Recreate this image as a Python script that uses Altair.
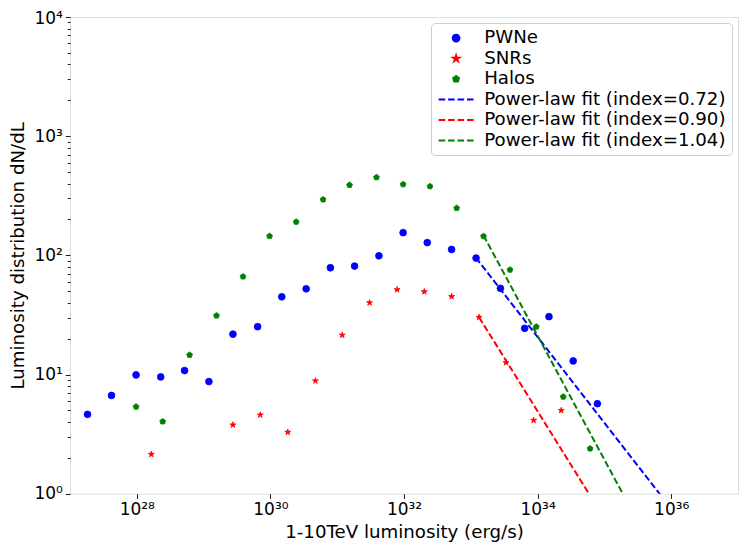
import altair as alt
import pandas as pd
import numpy as np

# ---------------- data ----------------
series_names = ["PWNe", "SNRs", "Halos",
                "Power-law fit (index=0.72)",
                "Power-law fit (index=0.90)",
                "Power-law fit (index=1.04)"]
series_colors = ["#0000ff", "#ff0000", "#008000", "#0000ff", "#ff0000", "#008000"]

pwne_L = [1.83e27, 4.18e27, 9.75e27, 2.28e28, 5.19e28, 1.20e29, 2.75e29, 6.44e29,
          1.48e30, 3.43e30, 7.91e30, 1.82e31, 4.21e31, 9.70e31, 2.23e32, 5.16e32,
          1.20e33, 2.78e33, 6.40e33, 1.48e34, 3.41e34, 7.85e34]
pwne_N = [4.63, 6.67, 9.93, 9.55, 10.8, 8.73, 21.8, 25.2, 44.9, 52.4, 78.7, 81.3,
          99.1, 155, 128, 112, 94.9, 52.9, 24.4, 30.6, 13.0, 5.69]

snr_L = [1.65e28, 2.75e29, 7.06e29, 1.82e30, 4.72e30, 1.19e31, 3.05e31, 7.89e31,
         2.01e32, 5.16e32, 1.33e33, 3.37e33, 8.73e33, 2.26e34]
snr_N = [2.14, 3.78, 4.58, 3.28, 8.85, 21.4, 40.0, 51.6, 49.6, 45.1, 30.2, 12.6,
         4.13, 5.00]

halo_L = [9.75e27, 2.44e28, 6.17e28, 1.56e29, 3.89e29, 9.72e29, 2.43e30, 6.15e30,
          1.53e31, 3.87e31, 9.70e31, 2.45e32, 6.15e32, 1.55e33, 3.86e33, 9.57e33,
          2.42e34, 6.11e34]
halo_N = [5.37, 4.03, 14.6, 31.2, 66.3, 145, 191, 294, 389, 451, 394, 379, 249,
          144.5, 75.7, 25.2, 6.51, 2.39]

fit_index = [0.72, 0.90, 1.04]
fit_L0 = [1.19e33, 1.33e33, 1.55e33]
fit_N0 = [95.5, 30.2, 147.0]
fit_Lmax = 1e37

x_domain = [1e27, 1e37]
y_domain = [1, 1e4]
x_ticks = [1e28, 1e30, 1e32, 1e34, 1e36]

# ---------------- tables ----------------
pts = pd.concat([
    pd.DataFrame({"L": pwne_L, "N": pwne_N, "series": "PWNe"}),
    pd.DataFrame({"L": snr_L, "N": snr_N, "series": "SNRs"}),
    pd.DataFrame({"L": halo_L, "N": halo_N, "series": "Halos"}),
], ignore_index=True)

rows = []
for name, idx, L0, N0 in zip(series_names[3:], fit_index, fit_L0, fit_N0):
    for L in (L0, fit_Lmax):
        rows.append({"L": L, "N": N0 * (L / L0) ** (-idx), "series": name})
fits = pd.DataFrame(rows)

# ---------------- marker shapes (unit = sqrt(size)/2 px) ----------------
def star_path(R, ratio=0.382):
    pts_ = []
    for k in range(10):
        a = np.deg2rad(-90 + 36 * k)
        r = R if k % 2 == 0 else R * ratio
        pts_.append((r * np.cos(a), r * np.sin(a)))
    return "M" + "L".join(f"{x:.3f},{y:.3f}" for x, y in pts_) + "Z"

def pentagon_path(R):
    pts_ = []
    for k in range(5):
        a = np.deg2rad(-90 + 72 * k)
        pts_.append((R * np.cos(a), R * np.sin(a)))
    return "M" + "L".join(f"{x:.3f},{y:.3f}" for x, y in pts_) + "Z"

def dash_path(half=5.15, dash=1.94, gap=0.85):
    s = -half
    parts = []
    for _ in range(4):
        parts.append(f"M{s:.3f},0L{s + dash:.3f},0")
        s += dash + gap
    return "".join(parts)

DASH = dash_path()
series_shapes = ["circle", star_path(0.92), pentagon_path(0.9), DASH, DASH, DASH]

MSIZE = 46

# ---------------- label expressions ----------------
SUP = dict(zip("0123456789", "⁰¹²³⁴⁵⁶⁷⁸⁹"))
def sup(n):
    return "".join(SUP[c] for c in str(n))

LOGE = "log(datum.value)/LN10"
def power_expr(exps):
    expr = "''"
    for k in reversed(list(exps)):
        expr = f"(round({LOGE}) == {k} ? '10{sup(k)}' : {expr})"
    return expr

IS_POW = f"abs({LOGE} - round({LOGE})) < 0.001"

y_values = [k * 10 ** e for e in range(0, 4) for k in range(1, 10)] + [10000]

FONT = "DejaVu Sans"
TXT = 18.2

x_axis = alt.Axis(values=x_ticks, labelExpr=power_expr(range(28, 37)),
                  title="1-10TeV luminosity (erg/s)", grid=False, domain=False,
                  tickSize=4.7, tickColor="black", tickWidth=0.9,
                  labelFont=FONT, labelFontSize=17, labelColor="black",
                  labelPadding=3, labelFlush=False, labelOverlap=False,
                  titleFont=FONT, titleFontSize=TXT, titleFontWeight="normal",
                  titleColor="black", titlePadding=6)
y_axis = alt.Axis(values=y_values,
                  labelExpr=f"{IS_POW} ? {power_expr(range(0, 5))} : ''",
                  title="Luminosity distribution dN/dL", grid=False, domain=False,
                  tickSize={"condition": {"test": IS_POW, "value": 4.7}, "value": 2.7},
                  labelOffset={"condition": {"test": "datum.value > 9000", "value": 2}, "value": 0},
                  tickColor="black", tickWidth=0.9,
                  labelFont=FONT, labelFontSize=17, labelColor="black",
                  labelPadding=3, labelFlush=False, labelOverlap=False,
                  titleFont=FONT, titleFontSize=TXT, titleFontWeight="normal",
                  titleColor="black", titlePadding=6)

x_enc = alt.X("L:Q", scale=alt.Scale(type="log", domain=x_domain, nice=False), axis=x_axis)
y_enc = alt.Y("N:Q", scale=alt.Scale(type="log", domain=y_domain, nice=False), axis=y_axis)

legend = alt.Legend(title=None, orient="top-right", offset=6,
                    labelFont=FONT, labelFontSize=TXT, labelColor="black",
                    symbolSize=MSIZE, symbolStrokeWidth=2,
                    symbolOffset=10, labelOffset=19, rowPadding=1.5,
                    padding=6, fillColor="white", strokeColor="#cccccc",
                    cornerRadius=4, labelLimit=400)

lines = alt.Chart(fits).mark_line(strokeDash=[6.6, 2.9], strokeWidth=2, clip=True).encode(
    x=x_enc, y=y_enc,
    color=alt.Color("series:N", scale=alt.Scale(domain=series_names[3:], range=series_colors[3:]),
                    legend=None),
    detail="series:N",
)

points = alt.Chart(pts).mark_point(size=MSIZE, strokeWidth=0.8, opacity=1).encode(
    x=x_enc, y=y_enc,
    fill=alt.Fill("series:N", scale=alt.Scale(domain=series_names, range=series_colors),
                  legend=legend),
    stroke=alt.Stroke("series:N", scale=alt.Scale(domain=series_names, range=series_colors),
                      legend=legend),
    shape=alt.Shape("series:N", scale=alt.Scale(domain=series_names, range=series_shapes),
                    legend=legend),
)

chart = alt.layer(lines, points).properties(
    width=668, height=476.7,
    autosize=alt.AutoSizeParams(type="none"),
    padding={"left": 62, "top": 9, "right": 2, "bottom": 49},
).configure_view(stroke="#444444", strokeWidth=1).configure(background="white")

chart.save("out.html", embed_options={"renderer": "svg", "actions": False})
